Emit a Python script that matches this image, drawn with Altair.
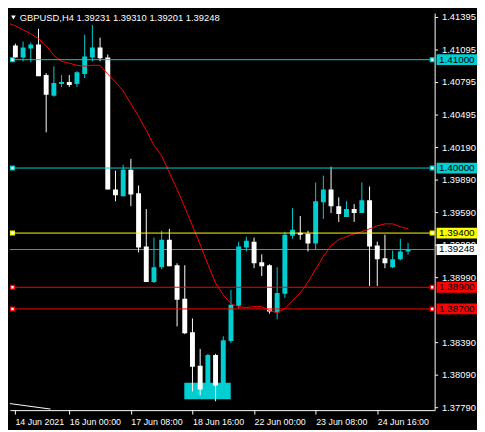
import altair as alt
import pandas as pd

# ---------------- data ----------------
symbol = "GBPUSD,H4"
header_ohlc = ["1.39231", "1.39310", "1.39201", "1.39248"]

opens = [1.41076, 1.41130, 1.41021, 1.41103, 1.41139, 1.40858, 1.40667, 1.40776, 1.40794, 1.40776,
         1.40867, 1.41021, 1.41112, 1.41021, 1.39803, 1.39739, 1.39985, 1.39767, 1.39276, 1.38948,
         1.39085, 1.39339, 1.39103, 1.38794, 1.38485, 1.38176, 1.37957, 1.38276, 1.37994, 1.38403,
         1.38730, 1.39267, 1.39321, 1.39130, 1.39103, 1.38666, 1.38839, 1.39376, 1.39403, 1.39394,
         1.39303, 1.39685, 1.39803, 1.39648, 1.39548, 1.39621, 1.39585, 1.39703, 1.39285, 1.39167,
         1.39085, 1.39158, 1.39231]
highs = [1.41239, 1.41148, 1.41167, 1.41158, 1.41285, 1.40876, 1.40939, 1.40858, 1.40858, 1.40894,
         1.41230, 1.41321, 1.41203, 1.41048, 1.39976, 1.40030, 1.40085, 1.39839, 1.39621, 1.39358,
         1.39421, 1.39439, 1.39121, 1.39103, 1.38612, 1.38330, 1.38285, 1.38285, 1.38448, 1.38876,
         1.39321, 1.39367, 1.39358, 1.39203, 1.39112, 1.39085, 1.39412, 1.39630, 1.39558, 1.39421,
         1.39867, 1.39930, 1.40012, 1.39730, 1.39694, 1.39667, 1.39867, 1.39830, 1.39321, 1.39385,
         1.39239, 1.39348, 1.39310]
lows = [1.41067, 1.41021, 1.40985, 1.40976, 1.40848, 1.40330, 1.40658, 1.40748, 1.40748, 1.40748,
        1.40830, 1.40985, 1.40985, 1.39803, 1.39694, 1.39739, 1.39648, 1.39221, 1.38948, 1.38939,
        1.39067, 1.39094, 1.38539, 1.38467, 1.37939, 1.37903, 1.37939, 1.37848, 1.37976, 1.38385,
        1.38703, 1.39230, 1.39076, 1.39003, 1.38657, 1.38603, 1.38803, 1.39348, 1.39339, 1.39230,
        1.39249, 1.39530, 1.39585, 1.39503, 1.39548, 1.39503, 1.39585, 1.38912, 1.38912, 1.39076,
        1.39076, 1.39149, 1.39201]
closes = [1.41121, 1.41021, 1.41112, 1.41139, 1.40848, 1.40676, 1.40785, 1.40794, 1.40767, 1.40885,
          1.41030, 1.41112, 1.41012, 1.39803, 1.39748, 1.39985, 1.39757, 1.39267, 1.38948, 1.39085,
          1.39339, 1.39094, 1.38785, 1.38476, 1.38167, 1.37957, 1.38276, 1.37994, 1.38412, 1.38739,
          1.39276, 1.39330, 1.39121, 1.39094, 1.38676, 1.38848, 1.39385, 1.39430, 1.39385, 1.39303,
          1.39694, 1.39803, 1.39648, 1.39576, 1.39621, 1.39585, 1.39703, 1.39276, 1.39158, 1.39121,
          1.39158, 1.39230, 1.39248]
ma_values = [1.41339, 1.41312, 1.41276, 1.41239, 1.41194, 1.41130, 1.41039, 1.40985, 1.40967, 1.40948,
             1.40939, 1.40948, 1.40948, 1.40867, 1.40794, 1.40712, 1.40594, 1.40476, 1.40348, 1.40212,
             1.40112, 1.39958, 1.39803, 1.39639, 1.39467, 1.39294, 1.39112, 1.38939, 1.38830, 1.38749,
             1.38721, 1.38712, 1.38721, 1.38721, 1.38685, 1.38666, 1.38703, 1.38776, 1.38848, 1.38948,
             1.39067, 1.39185, 1.39285, 1.39339, 1.39367, 1.39394, 1.39412, 1.39439, 1.39467, 1.39485,
             1.39485, 1.39458, 1.39439]
bar_index = list(range(len(opens)))

x_tick_values = [0, 8, 16, 24, 32, 40, 48]
x_tick_labels = ["14 Jun 2021", "16 Jun 00:00", "17 Jun 08:00", "18 Jun 16:00",
                 "22 Jun 00:00", "23 Jun 08:00", "24 Jun 16:00"]
y_tick_values = [1.41395, 1.41095, 1.40795, 1.40495, 1.40190, 1.39890, 1.39590,
                 1.39290, 1.38990, 1.38390, 1.38090, 1.37790]

level_prices = [1.41000, 1.40000, 1.39400, 1.38900, 1.38700]
level_colors = ["#00CED1", "#00CED1", "#FFFF00", "#FF0000", "#FF0000"]
bid_price = 1.39248
bid_color = "#778899"

zone_x = [22.94, 28.97]
zone_price = [1.38018, 1.37867]

tail_x = [-0.06, 5.56]
tail_price = [1.37830, 1.37776]

# visible window (the page's 8px margin hides the first 8px of the original view)
x_domain = [0.9375, 54.8125]
y_domain = [1.37766, 1.41430]

# ---------------- layout / style ----------------
W, H = 431, 403
FONT = "Liberation Sans"
CYAN = "#00CED1"
BOX_HALF = 0.0005

candles = pd.DataFrame({"i": bar_index, "open": opens, "high": highs,
                        "low": lows, "close": closes, "ma": ma_values})
candles["dir"] = ["up" if c >= o else "down" for o, c in zip(opens, closes)]

xs = alt.Scale(domain=x_domain, nice=False, zero=False)
ys = alt.Scale(domain=y_domain, nice=False, zero=False)

# the first date label sits on the left edge of the visible window
axis_x_values = [max(v, x_domain[0]) for v in x_tick_values]
expr = "''"
for v, lab in reversed(list(zip(axis_x_values, x_tick_labels))):
    expr = f"datum.value == {v} ? '{lab}' : ({expr})"

x_axis = alt.Axis(values=axis_x_values, labelExpr=expr, title=None, grid=False,
                  domainColor="white", tickColor="white", labelColor="white",
                  tickSize=4, labelPadding=4, labelAlign="left", labelFlush=False,
                  labelOverlap=False, labelFont=FONT, labelFontSize=9, zindex=0)
y_axis = alt.Axis(orient="right", values=y_tick_values, format=".5f", title=None,
                  grid=False, domainColor="white", tickColor="white", labelColor="white",
                  tickSize=3, labelPadding=4, labelFlush=False, labelOverlap=False,
                  labelFont=FONT, labelFontSize=9.5, zindex=0)


def X(field):
    return alt.X(field, scale=xs, axis=x_axis)


def Y(field):
    return alt.Y(field, scale=ys, axis=y_axis)


dir_color = alt.Color("dir:N", scale=alt.Scale(domain=["up", "down"], range=[CYAN, "white"]),
                      legend=None)

zone = alt.Chart(pd.DataFrame({"x0": [zone_x[0]], "x1": [zone_x[1]],
                               "p0": [zone_price[0]], "p1": [zone_price[1]]})).mark_rect(
    color=CYAN).encode(x=X("x0:Q"), x2="x1:Q", y=Y("p0:Q"), y2="p1:Q")

bid_df = pd.DataFrame({"p": [bid_price]})
bid_line = alt.Chart(bid_df).mark_rule(color=bid_color, strokeWidth=1).encode(
    y=Y("p:Q"), x=alt.value(0), x2=alt.value(W))

wicks = alt.Chart(candles).mark_rule(strokeWidth=1, clip=True).encode(
    x=X("i:Q"), y=Y("low:Q"), y2="high:Q", color=dir_color)

bodies = alt.Chart(candles).mark_bar(size=5, clip=True).encode(
    x=X("i:Q"), y=Y("open:Q"), y2="close:Q", color=dir_color)

ma_line = alt.Chart(candles).mark_line(color="#FF0000", strokeWidth=1, clip=True).encode(
    x=X("i:Q"), y=Y("ma:Q"))

tail = alt.Chart(pd.DataFrame({"x": tail_x, "p": tail_price})).mark_line(
    color="white", strokeWidth=1, clip=True).encode(x=X("x:Q"), y=Y("p:Q"))

levels_df = pd.DataFrame({"p": level_prices, "c": level_colors})
level_lines = alt.Chart(levels_df).mark_rule(strokeWidth=1).encode(
    y=Y("p:Q"), x=alt.value(0), x2=alt.value(W), color=alt.Color("c:N", scale=None))

left_marks = alt.Chart(levels_df).mark_square(size=14, filled=True, fill="white",
                                              strokeWidth=1.3, opacity=1).encode(
    y=Y("p:Q"), x=alt.value(2.5), stroke=alt.Color("c:N", scale=None))
right_marks = alt.Chart(levels_df).mark_square(size=14, filled=True, fill="white",
                                               strokeWidth=1.3, opacity=1).encode(
    y=Y("p:Q"), x=alt.value(W - 2.5), stroke=alt.Color("c:N", scale=None))

box_df = pd.DataFrame({"p": level_prices + [bid_price], "c": level_colors + ["#FFFFFF"]})
box_df["label"] = [f"{v:.5f}" for v in box_df["p"]]
boxes = alt.Chart(box_df).transform_calculate(
    top=f"datum.p + {BOX_HALF}", bot=f"datum.p - {BOX_HALF}").mark_rect().encode(
    y=Y("top:Q"), y2="bot:Q", x=alt.value(W + 2), x2=alt.value(W + 43),
    color=alt.Color("c:N", scale=None))
box_text = alt.Chart(box_df).mark_text(align="center", baseline="middle", font=FONT,
                                       fontSize=10, color="black").encode(
    y=Y("p:Q"), x=alt.value(W + 22.5), text="label:N")

header_df = pd.DataFrame({"t": [symbol + "  " + " ".join(header_ohlc)]})
header = alt.Chart(header_df).mark_text(align="left", baseline="middle", font=FONT,
                                        fontSize=9.5, color="white").encode(
    x=alt.value(10), y=alt.value(5), text="t:N")
tri = alt.Chart(header_df).mark_point(shape="triangle-down", filled=True, color="white",
                                      size=22, opacity=1).encode(
    x=alt.value(3.5), y=alt.value(4.5))

chart = alt.layer(
    zone, bid_line, wicks, bodies, ma_line, tail, level_lines,
    left_marks, right_marks, boxes, box_text, header, tri
).properties(width=W, height=H, padding=0).configure(
    background="black").configure_view(stroke=None)

chart.save("out.html", embed_options={"renderer": "svg", "actions": False})
